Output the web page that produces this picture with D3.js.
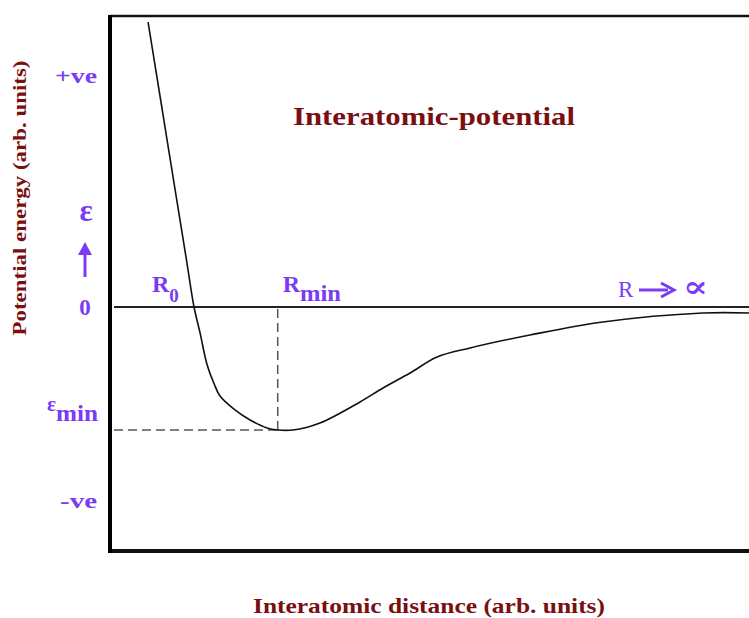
<!DOCTYPE html>
<html><head><meta charset="utf-8">
<script src="https://cdn.jsdelivr.net/npm/d3@7"></script>
<style>html,body{margin:0;padding:0;background:#fff;}svg{display:block;}</style>
</head><body>
<script>
// Interatomic distance (arb. units, R_min = 1) and potential energy (arb. units, eps_min = -1)
const distance = [0.227,0.302,0.398,0.456,0.501,0.537,0.578,0.620,0.656,0.745,0.835,0.936,1.000,1.091,1.252,1.491,1.628,1.789,1.950,2.147,2.504,2.939,3.535,3.810];
const energy   = [2.317,1.683,0.870,0.382,0.000,-0.211,-0.465,-0.622,-0.724,-0.837,-0.919,-0.984,-1.000,-1.000,-0.943,-0.772,-0.659,-0.537,-0.407,-0.333,-0.228,-0.122,-0.049,-0.049];
const R0 = 0.50, Rmin = 1.0, epsMin = -1.0;
const yTickLabels = ["+ve", "0", "-ve"];
const yTickValues = [1.88, 0, -1.58];
const title = "Interatomic-potential";
const xTitle = "Interatomic distance (arb. units)";
const yTitle = "Potential energy (arb. units)";

const W = 749, H = 618;
const svg = d3.select("body").append("svg").attr("width", W).attr("height", H);
const x = d3.scaleLinear().domain([0, 3.81]).range([110, 749]);
const y = d3.scaleLinear().domain([-1.984, 2.366]).range([551, 16]);
const purple = "#7a3cf2", red = "#7a0f12";
const serif = "'Liberation Serif','DejaVu Serif',serif";

// frame
svg.append("line").attr("x1", x(0)).attr("x2", W + 10).attr("y1", y.range()[1]).attr("y2", y.range()[1]).attr("stroke", "#111").attr("stroke-width", 2.5);
svg.append("line").attr("x1", x(0)).attr("x2", W + 10).attr("y1", y.range()[0]).attr("y2", y.range()[0]).attr("stroke", "#111").attr("stroke-width", 4);
svg.append("line").attr("x1", x(0)).attr("x2", x(0)).attr("y1", y.range()[1] - 1).attr("y2", y.range()[0] + 2).attr("stroke", "#000").attr("stroke-width", 4);

// zero line
svg.append("line").attr("x1", x(0) + 4).attr("x2", W).attr("y1", y(0)).attr("y2", y(0)).attr("stroke", "#222").attr("stroke-width", 2);

// dashed guides
svg.append("line").attr("x1", x(Rmin)).attr("x2", x(Rmin)).attr("y1", y(0) + 2).attr("y2", y(epsMin)).attr("stroke", "#555").attr("stroke-width", 1.5).attr("stroke-dasharray", "9,5");
svg.append("line").attr("x1", x(0) + 4).attr("x2", x(Rmin)).attr("y1", y(epsMin)).attr("y2", y(epsMin)).attr("stroke", "#555").attr("stroke-width", 1.5).attr("stroke-dasharray", "9,5");

// curve
const pts = distance.map((d, i) => [d, energy[i]]);
svg.append("path").datum(pts)
  .attr("d", d3.line().x(d => x(d[0])).y(d => y(d[1])).curve(d3.curveCatmullRom.alpha(0.5)))
  .attr("fill", "none").attr("stroke", "#111").attr("stroke-width", 1.6);

// y tick labels
const tk = svg.append("g").attr("font-family", serif).attr("font-weight", "bold").attr("fill", purple);
tk.append("text").attr("x", 55).attr("y", y(yTickValues[0]) + 7).attr("font-size", 20).attr("textLength", 42).attr("lengthAdjust", "spacingAndGlyphs").text(yTickLabels[0]);
tk.append("text").attr("x", 85).attr("y", y(yTickValues[1]) + 8).attr("text-anchor", "middle").attr("font-size", 23).text(yTickLabels[1]);
tk.append("text").attr("x", 60).attr("y", y(yTickValues[2]) + 7).attr("font-size", 20).attr("textLength", 37).attr("lengthAdjust", "spacingAndGlyphs").text(yTickLabels[2]);
// epsilon with arrow
tk.append("text").attr("x", 86).attr("y", 221).attr("text-anchor", "middle").attr("font-size", 31).text("ε");
svg.append("line").attr("x1", 85).attr("x2", 85).attr("y1", 277).attr("y2", 252).attr("stroke", purple).attr("stroke-width", 3);
svg.append("path").attr("d", "M78,255 L85,242 L92,255 Z").attr("fill", purple);
// eps_min
const em = tk.append("text").attr("x", 47).attr("y", y(epsMin) - 19).attr("font-size", 21);
em.append("tspan").text("ε");
em.append("tspan").attr("dy", 10).attr("font-size", 23).attr("textLength", 42).attr("lengthAdjust", "spacingAndGlyphs").text("min");

// R labels
const r0 = tk.append("text").attr("x", 152).attr("y", y(0) - 15).attr("font-size", 24);
r0.append("tspan").text("R");
r0.append("tspan").attr("dy", 10).attr("font-size", 19).text("0");
const rm = tk.append("text").attr("x", x(Rmin) + 5).attr("y", y(0) - 15).attr("font-size", 24);
rm.append("tspan").text("R");
rm.append("tspan").attr("dy", 9).attr("font-size", 24).attr("textLength", 41).attr("lengthAdjust", "spacingAndGlyphs").text("min");
tk.append("text").attr("x", 618).attr("y", y(0) - 10).attr("font-size", 23).attr("font-weight", "normal").text("R");
svg.append("line").attr("x1", 639).attr("x2", 668).attr("y1", y(0) - 17).attr("y2", y(0) - 17).attr("stroke", purple).attr("stroke-width", 3);
svg.append("path").attr("d", `M661,${y(0)-24} L674,${y(0)-17} L661,${y(0)-10}`).attr("fill", "none").attr("stroke", purple).attr("stroke-width", 3);
tk.append("text").attr("x", 683).attr("y", y(0) - 10).attr("font-size", 30).attr("textLength", 25).attr("lengthAdjust", "spacingAndGlyphs").text("∝");

// titles
svg.append("text").attr("x", 293).attr("y", 125).attr("font-family", serif).attr("font-weight", "bold").attr("font-size", 25).attr("fill", red)
  .attr("textLength", 282).attr("lengthAdjust", "spacingAndGlyphs").text(title);
svg.append("text").attr("x", 253).attr("y", 613).attr("font-family", serif).attr("font-weight", "bold").attr("font-size", 21).attr("fill", red)
  .attr("textLength", 352).attr("lengthAdjust", "spacingAndGlyphs").text(xTitle);
svg.append("text").attr("transform", "translate(26,198) rotate(-90)").attr("text-anchor", "middle").attr("font-family", serif).attr("font-weight", "bold").attr("font-size", 18).attr("fill", red)
  .attr("textLength", 275).attr("lengthAdjust", "spacingAndGlyphs").text(yTitle);
</script>
</body></html>
